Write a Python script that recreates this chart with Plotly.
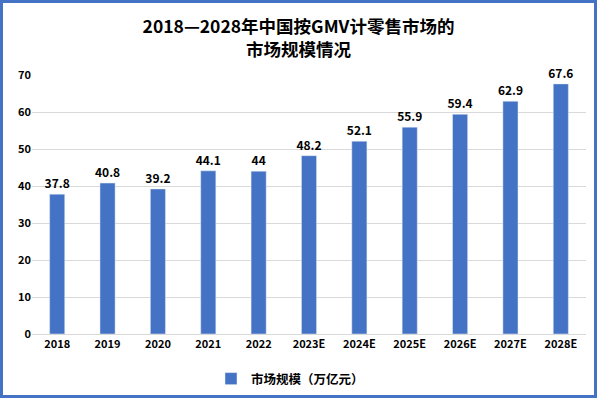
import plotly.graph_objects as go

categories = ["2018", "2019", "2020", "2021", "2022", "2023E", "2024E", "2025E", "2026E", "2027E", "2028E"]
values = [37.8, 40.8, 39.2, 44.1, 44, 48.2, 52.1, 55.9, 59.4, 62.9, 67.6]
labels = ["37.8", "40.8", "39.2", "44.1", "44", "48.2", "52.1", "55.9", "59.4", "62.9", "67.6"]
series_name = "<b>市场规模（万亿元）</b>"
title_text = "2018—2028年中国按GMV计零售市场的<br>市场规模情况"

W, H = 597, 398
L, R, T, B = 32, 11, 75, 64
pw, ph = W - L - R, H - T - B

def px(x):
    return (x - L) / pw

def py(y):
    return (H - B - y) / ph

font_main = "Noto Sans CJK SC, Microsoft YaHei, sans-serif"

fig = go.Figure()
fig.add_trace(go.Bar(
    x=categories, y=values, name=series_name,
    marker=dict(color="#4472C4"),
    width=0.3,
    texttemplate="<b>%{text}</b>",
    text=labels, textposition="outside",
    textfont=dict(size=12, color="#000000", family=font_main),
    constraintext="none",
    cliponaxis=False,
))

fig.update_layout(
    width=W, height=H,
    margin=dict(l=L, r=R, t=T, b=B, autoexpand=False),
    paper_bgcolor="white", plot_bgcolor="white",
    title=dict(text="<b>" + title_text + "</b>", x=0.5, xanchor="center",
               y=1 - 33 / H, yanchor="middle",
               font=dict(size=17.5, color="#000000", family=font_main)),
    xaxis=dict(showgrid=False, showline=True, linecolor="#D9D9D9", linewidth=1,
               ticks="", tickprefix="<b>", ticksuffix="</b>",
               tickfont=dict(size=11, color="#000000", family=font_main)),
    yaxis=dict(range=[0, 70], dtick=10, showgrid=True, gridcolor="#D9D9D9", gridwidth=1,
               zeroline=False, showline=False, ticks="", tickprefix="<b>", ticksuffix="</b>",
               tickfont=dict(size=11, color="#000000", family=font_main)),
    showlegend=True,
    legend=dict(orientation="h", x=px(290), xanchor="center", y=py(379), yanchor="middle",
                font=dict(size=12.5, color="#000000", family=font_main),
                itemwidth=30),
    bargap=0.7,
    shapes=[dict(type="rect", xref="paper", yref="paper",
                 x0=px(1.5), x1=px(W - 1.5), y0=py(H - 1.5), y1=py(1.5),
                 line=dict(color="#4472C4", width=3), fillcolor="rgba(0,0,0,0)",
                 layer="above")],
)

fig.write_html("out.html", config={"displayModeBar": False},
               post_script="document.body.style.margin='0';document.body.style.overflow='hidden';")
